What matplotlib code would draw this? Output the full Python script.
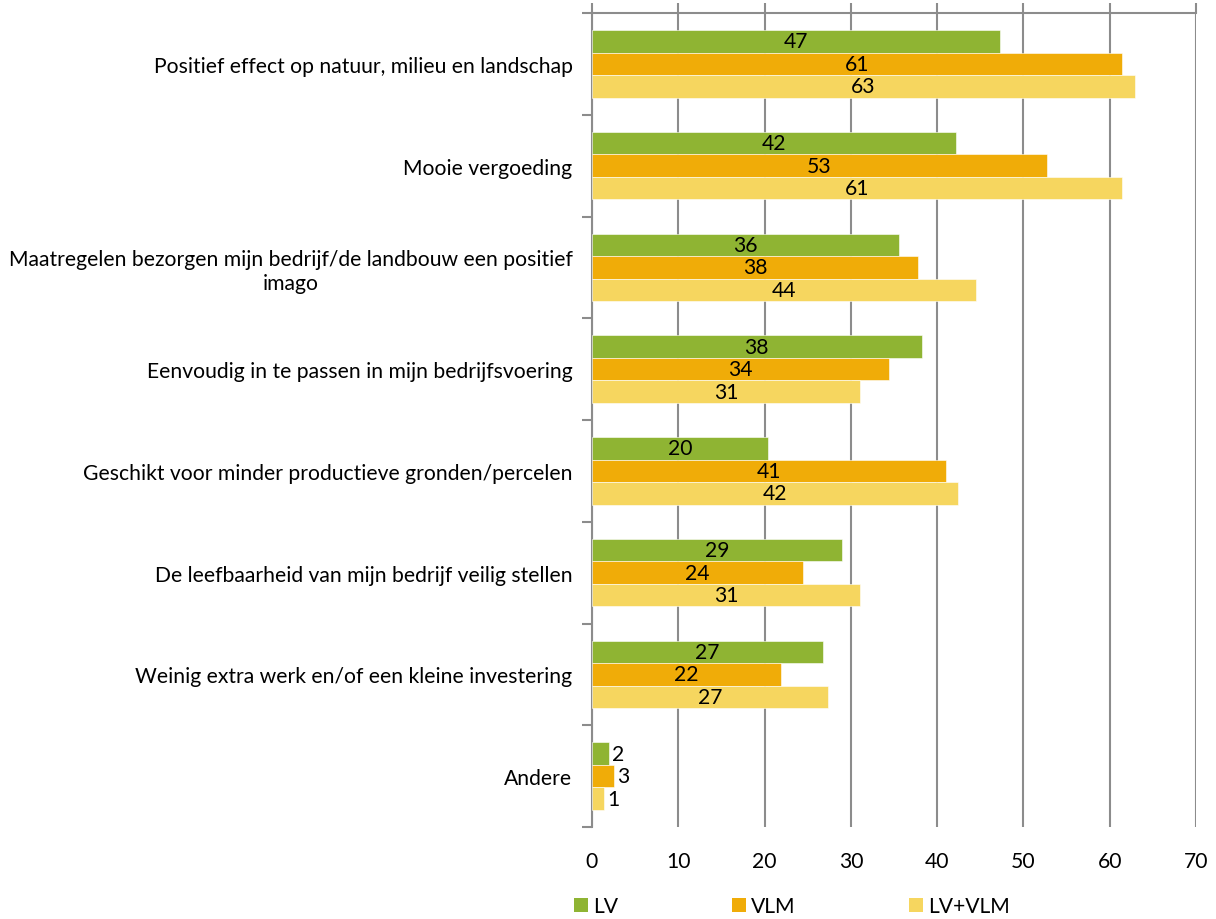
import matplotlib
matplotlib.use("Agg")
import matplotlib.pyplot as plt
import numpy as np
from matplotlib.patches import Patch

categories = [
    "Positief effect op natuur, milieu en landschap",
    "Mooie vergoeding",
    "Maatregelen bezorgen mijn bedrijf/de landbouw een positief\nimago",
    "Eenvoudig in te passen in mijn bedrijfsvoering",
    "Geschikt voor minder productieve gronden/percelen",
    "De leefbaarheid van mijn bedrijf veilig stellen",
    "Weinig extra werk en/of een kleine investering",
    "Andere",
]
series_names = ["LV", "VLM", "LV+VLM"]
lv = [47.3, 42.2, 35.6, 38.2, 20.4, 29.0, 26.8, 2.0]
vlm = [61.4, 52.7, 37.8, 34.4, 41.0, 24.4, 21.9, 2.6]
lvvlm = [62.9, 61.4, 44.5, 31.1, 42.4, 31.1, 27.4, 1.4]
colors = ["#8FB433", "#F0AC08", "#F6D65F"]

plt.rcParams['font.family'] = ['Lato', 'DejaVu Sans']
FS = 15.2

fig = plt.figure(figsize=(12.16, 9.2), dpi=100)
ax = fig.add_axes([592/1216, 1-828/920, (1196-592)/1216, (828-14)/920])

y = np.arange(len(categories))
h = 0.221
offsets = [-h, 0, h]
for vals, off, col in zip([lv, vlm, lvvlm], offsets, colors):
    ax.barh(y + off, vals, height=h, color=col, edgecolor='white', linewidth=0.4, zorder=3)
    for yy, v in zip(y + off, vals):
        if v < 5:
            ax.text(v + 0.35, yy, f"{round(v):d}", ha='left', va='center', fontsize=FS, zorder=4)
        else:
            ax.text(v / 2, yy, f"{round(v):d}", ha='center', va='center', fontsize=FS, zorder=4)

ax.set_xlim(0, 70)
ax.set_ylim(len(categories) - 0.5, -0.5)
ax.set_xticks(np.arange(0, 71, 10))
ax.set_yticks(y)
ax.set_yticklabels(categories, fontsize=FS, multialignment='center')
ax.set_yticks(np.arange(-0.5, len(categories)), minor=True)

ax.grid(axis='x', color='#8C8C8C', linewidth=1.5, zorder=0)
ax.set_axisbelow(True)
for s in ['right', 'bottom']:
    ax.spines[s].set_visible(False)
for s in ['top', 'left']:
    ax.spines[s].set_color('#8C8C8C')
    ax.spines[s].set_linewidth(1.5)

ax.tick_params(axis='x', which='major', top=True, bottom=False, labelbottom=True, labeltop=False,
               length=7, width=1.5, color='#8C8C8C', direction='out', labelsize=FS, pad=10)
ax.tick_params(axis='y', which='major', length=0, pad=14)
ax.tick_params(axis='y', which='minor', length=7, width=1.5, color='#8C8C8C', direction='out')

handles = [Patch(facecolor=c, edgecolor='none') for c in colors]
fig.legend(handles, series_names, loc='center', bbox_to_anchor=(792/1216, 1-907/920), ncol=3,
           frameon=False, fontsize=FS, handlelength=0.65, handleheight=0.65, handletextpad=0.25,
           columnspacing=5.4, borderpad=0)

fig.savefig("out.png", dpi=100)
